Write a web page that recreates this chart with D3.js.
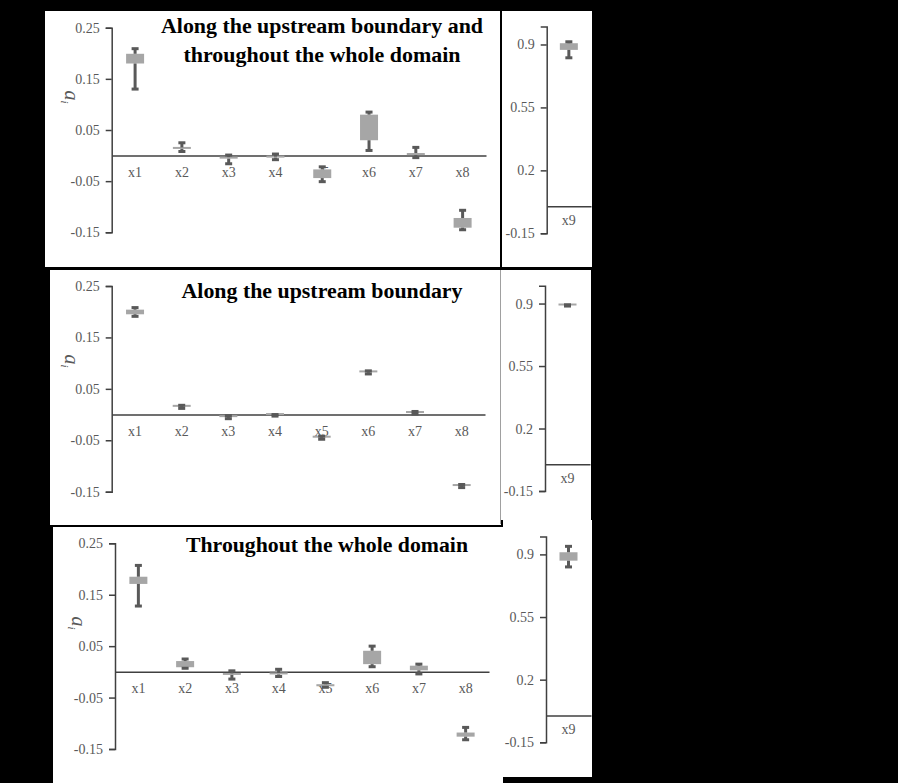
<!DOCTYPE html>
<html>
<head>
<meta charset="utf-8">
<script src="https://cdn.jsdelivr.net/npm/d3@7"></script>
<style>
  body { margin: 0; background: #000; }
  svg { display: block; }
  text { font-family: "Liberation Serif", "Times New Roman", serif; }
</style>
</head>
<body>
<div id="chart"></div>
<script>
// categories and tick labels
const cats = ["x1", "x2", "x3", "x4", "x5", "x6", "x7", "x8"];
const cat9 = ["x9"];
const leftTicks = [-0.15, -0.05, 0.05, 0.15, 0.25];
const rightTicks = [-0.15, 0.2, 0.55, 0.9];
const titles = [
  ["Along the upstream boundary and", "throughout the whole domain"],
  ["Along the upstream boundary"],
  ["Throughout the whole domain"]
];

// panel 1: along the upstream boundary and throughout the whole domain (x1..x9)
const bothMin = [0.130, 0.008, -0.016, -0.008, -0.051, 0.010, -0.004, -0.145, 0.826];
const bothQ1  = [0.180, 0.013, -0.006, -0.004, -0.044, 0.030, 0.001, -0.141, 0.870];
const bothQ3  = [0.199, 0.016, -0.003, -0.002, -0.027, 0.080, 0.005, -0.122, 0.907];
const bothMax = [0.209, 0.025, 0.001, 0.003, -0.022, 0.085, 0.016, -0.107, 0.915];

// panel 2: along the upstream boundary
const upMin = [0.191, 0.012, -0.008, -0.003, -0.048, 0.079, 0.001, -0.142, 0.886];
const upQ1  = [0.195, 0.015, -0.005, -0.001, -0.045, 0.082, 0.003, -0.139, 0.889];
const upQ3  = [0.204, 0.015, -0.004, -0.001, -0.045, 0.082, 0.003, -0.139, 0.889];
const upMax = [0.208, 0.018, -0.002, 0.000, -0.042, 0.085, 0.006, -0.136, 0.893];

// panel 3: throughout the whole domain
const wholeMin = [0.128, 0.007, -0.014, -0.009, -0.030, 0.010, -0.004, -0.132, 0.830];
const wholeQ1  = [0.171, 0.009, -0.006, -0.005, -0.028, 0.015, 0.003, -0.126, 0.865];
const wholeQ3  = [0.185, 0.021, -0.003, -0.002, -0.024, 0.041, 0.012, -0.118, 0.912];
const wholeMax = [0.207, 0.025, 0.002, 0.005, -0.021, 0.050, 0.015, -0.108, 0.945];

const series = [
  [bothMin, bothQ1, bothQ3, bothMax],
  [upMin, upQ1, upQ3, upMax],
  [wholeMin, wholeQ1, wholeQ3, wholeMax]
];

// where each panel sits on the page
const layout = [
  {ax: 111.7, top: 27.7, bot: 232.3, end: 486, rx: 546.7, rtop: 26.5, rbot: 233.3, rend: 591,
   tx: 322, ty: [33.3, 61.7], tw: [322, 277], lx: 65, ly: 97},
  {ax: 111.7, top: 286, bot: 491.7, end: 485, rx: 545, rtop: 285.7, rbot: 491, rend: 590,
   tx: 322, ty: [297.5], tw: [281], lx: 65, ly: 361},
  {ax: 115, top: 543.3, bot: 749, end: 489, rx: 546, rtop: 536.5, rbot: 742.3, rend: 591,
   tx: 327, ty: [551.7], tw: [282], lx: 71.7, ly: 623}
];

const W = 898, H = 783;
const boxColor = "#a6a6a6", whiskerColor = "#595959", textGray = "#595959", axisColor = "#404040";

const svg = d3.select("#chart").append("svg").attr("width", W).attr("height", H);
svg.append("rect").attr("width", W).attr("height", H).attr("fill", "#000");

// white panel backgrounds
const frames = [
  [45, 11, 455, 256], [502, 11, 90, 256],
  [50, 270, 451, 255], [501, 270, 90, 250],
  [53, 527, 450, 256], [503, 520, 89, 257]
];
svg.selectAll("rect.frame").data(frames).enter().append("rect")
  .attr("class", "frame")
  .attr("x", d => d[0]).attr("y", d => d[1])
  .attr("width", d => d[2]).attr("height", d => d[3])
  .attr("fill", "#fff");
svg.append("line").attr("x1", 500.5).attr("x2", 500.5).attr("y1", 270).attr("y2", 524)
  .attr("stroke", "#a0a0a0").attr("stroke-width", 1);

function styleAxis(g) {
  g.selectAll("path.domain").attr("stroke", axisColor).attr("stroke-width", 1.5);
  g.selectAll(".tick line").attr("stroke", axisColor).attr("stroke-width", 1.5);
  g.selectAll(".tick text").attr("fill", textGray).attr("font-size", 14);
}

function drawBoxes(g, x, y, idx, data) {
  const [mn, q1, q3, mx] = data;
  const rows = idx.map(i => ({cat: i.cat, min: mn[i.k], q1: q1[i.k], q3: q3[i.k], max: mx[i.k]}));
  const boxW = 18, capW = 7, capH = 3;

  const b = g.append("g").selectAll("g").data(rows).enter().append("g")
    .attr("transform", d => `translate(${x(d.cat) + x.bandwidth() / 2},0)`);

  b.append("rect")
    .attr("x", -boxW / 2)
    .attr("y", d => Math.min(y(d.q3), y(d.q1) - 2))
    .attr("width", boxW)
    .attr("height", d => Math.max(2, y(d.q1) - y(d.q3)))
    .attr("fill", boxColor);

  // lower and upper whiskers with caps
  b.append("line").attr("x1", 0).attr("x2", 0)
    .attr("y1", d => y(d.q1)).attr("y2", d => y(d.min))
    .attr("stroke", whiskerColor).attr("stroke-width", 3);
  b.append("line").attr("x1", 0).attr("x2", 0)
    .attr("y1", d => y(d.q3)).attr("y2", d => y(d.max))
    .attr("stroke", whiskerColor).attr("stroke-width", 3);
  b.append("rect").attr("x", -capW / 2).attr("y", d => y(d.min) - capH / 2)
    .attr("width", capW).attr("height", capH).attr("fill", whiskerColor);
  b.append("rect").attr("x", -capW / 2).attr("y", d => y(d.max) - capH / 2)
    .attr("width", capW).attr("height", capH).attr("fill", whiskerColor);
}

layout.forEach((L, p) => {
  const g = svg.append("g");

  // main plot x1..x8
  const x = d3.scaleBand().domain(cats).range([L.ax, L.end]);
  const y = d3.scaleLinear().domain([-0.15, 0.25]).range([L.bot, L.top]);

  g.append("g").attr("transform", `translate(${L.ax},0)`)
    .call(d3.axisLeft(y).tickValues(leftTicks).tickFormat(d => d.toFixed(2)).tickSizeOuter(0).tickSize(6).tickPadding(6))
    .call(styleAxis);

  g.append("g").attr("transform", `translate(0,${y(0)})`)
    .call(d3.axisBottom(x).tickSize(0).tickPadding(11))
    .call(styleAxis);

  drawBoxes(g, x, y, cats.map((c, k) => ({cat: c, k: k})), series[p]);

  // side plot x9
  const x9 = d3.scaleBand().domain(cat9).range([L.rx, L.rend]);
  const y9 = d3.scaleLinear().domain([-0.15, 1.0]).range([L.rbot, L.rtop]);

  g.append("g").attr("transform", `translate(${L.rx},0)`)
    .call(d3.axisLeft(y9).tickValues(rightTicks).tickFormat(d => String(d)).tickSizeOuter(0).tickSize(6).tickPadding(6))
    .call(styleAxis);

  g.append("g").attr("transform", `translate(0,${y9(0)})`)
    .call(d3.axisBottom(x9).tickSize(0).tickPadding(9))
    .call(styleAxis);

  drawBoxes(g, x9, y9, [{cat: "x9", k: 8}], series[p]);

  // title
  titles[p].forEach((t, i) => {
    g.append("text")
      .attr("x", L.tx).attr("y", L.ty[i])
      .attr("text-anchor", "middle")
      .attr("font-size", 20).attr("font-weight", "bold").attr("fill", "#000")
      .attr("textLength", L.tw[i]).attr("lengthAdjust", "spacingAndGlyphs")
      .text(t);
  });

  // y label a_i
  const yl = g.append("text")
    .attr("transform", `translate(${L.lx},${L.ly}) rotate(90)`)
    .attr("text-anchor", "middle")
    .attr("fill", textGray).attr("font-style", "italic");
  yl.append("tspan").attr("font-size", 20).text("a");
  yl.append("tspan").attr("font-size", 11).attr("dy", 4).text("i");
});
</script>
</body>
</html>
